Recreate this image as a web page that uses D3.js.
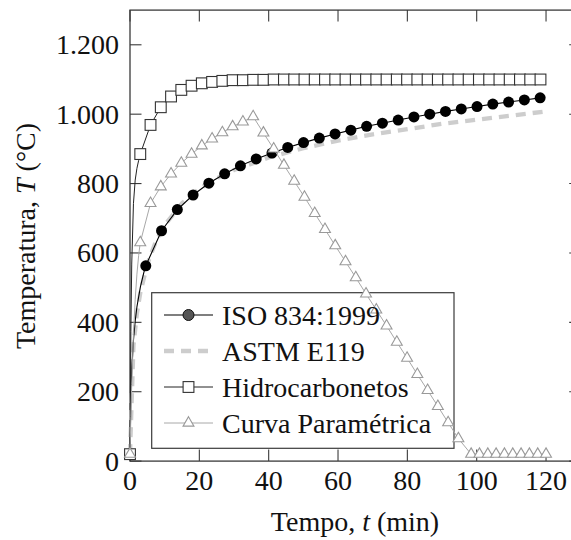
<!DOCTYPE html>
<html>
<head>
<meta charset="utf-8">
<script src="https://cdn.jsdelivr.net/npm/d3@7"></script>
<style>
  html, body { margin: 0; padding: 0; background: #fff; overflow: hidden; }
  svg text { font-family: "Liberation Serif", "Times New Roman", serif; fill: #111; }
</style>
</head>
<body>
<svg id="chart" width="571" height="540"></svg>
<script>
// ---- Data: fire curves, time in minutes, temperature in °C ----

// ISO 834:1999 (marked points)
const isoTime = [0, 4.55, 9.1, 13.65, 18.2, 22.75, 27.3, 31.85, 36.4, 40.95, 45.5, 50.05, 54.6, 59.15,
  63.7, 68.25, 72.8, 77.35, 81.9, 86.45, 91, 95.55, 100.1, 104.65, 109.2, 113.75, 118.3];
const isoTemp = [20, 563, 664, 725, 767, 801, 828, 851, 871, 888, 904, 918, 931, 943,
  954, 965, 974, 983, 992, 1000, 1008, 1015, 1022, 1029, 1035, 1041, 1047];
// extra unmarked points of the steep initial rise
const isoLeadTime = [0.25, 0.5, 1, 1.5, 2, 3, 4];
const isoLeadTemp = [185, 261, 349, 404, 445, 502, 544];

// ASTM E119 (line only)
const astmTime = [0, 1, 2, 3, 5, 7.5, 10, 15, 20, 25, 30, 40, 50, 60, 70, 80, 90, 100, 110, 120];
const astmTemp = [20, 333, 426, 487, 568, 634, 680, 743, 785, 815, 839, 875, 902, 924, 942, 957, 972, 984, 996, 1008];

// Hidrocarbonetos
const hydroTime = [0, 2.96, 5.92, 8.88, 11.84, 14.8, 17.76, 20.72, 23.68, 26.64, 29.6, 32.56, 35.52,
  38.48, 41.44, 44.4, 47.36, 50.32, 53.28, 56.24, 59.2, 62.16, 65.12, 68.08, 71.04, 74, 76.96,
  79.92, 82.88, 85.84, 88.8, 91.76, 94.72, 97.68, 100.64, 103.6, 106.56, 109.52, 112.48, 115.44, 118.4];
const hydroTemp = [20, 885, 969, 1020, 1051, 1070, 1082, 1089, 1093, 1096, 1098, 1098, 1099,
  1099, 1100, 1100, 1100, 1100, 1100, 1100, 1100, 1100, 1100, 1100, 1100, 1100, 1100,
  1100, 1100, 1100, 1100, 1100, 1100, 1100, 1100, 1100, 1100, 1100, 1100, 1100, 1100];
const hydroLeadTime = [0.25, 0.5, 1, 1.5, 2, 2.5];
const hydroLeadTemp = [373, 568, 743, 810, 844, 867];

// Curva Paramétrica (heating, linear cooling, then ambient)
const paramTime = [0, 2.96, 5.92, 8.88, 11.84, 14.8, 17.76, 20.72, 23.68, 26.64, 29.6, 32.56, 35.52,
  38.48, 41.44, 44.4, 47.36, 50.32, 53.28, 56.24, 59.2, 62.16, 65.12, 68.08, 71.04, 74, 76.96,
  79.92, 82.88, 85.84, 88.8, 91.76, 94.72,
  98.4, 100.8, 103.2, 105.6, 108, 110.4, 112.8, 115.2, 117.6, 120];
const paramTemp = [20, 630, 743, 791, 828, 859, 885, 909, 929, 947, 964, 978, 993,
  946, 900, 853, 807, 761, 714, 668, 621, 575, 529, 482, 436, 390, 343,
  297, 250, 204, 158, 111, 65,
  20, 20, 20, 20, 20, 20, 20, 20, 20, 20];
const paramLeadTime = [0.25, 0.5, 1, 1.5, 2, 2.5];
const paramLeadTemp = [129, 220, 364, 466, 539, 593];

// Axis ticks and labels
const xTicks = [0, 20, 40, 60, 80, 100, 120];
const yTicks = [0, 200, 400, 600, 800, 1000, 1200];
const seriesNames = ["ISO 834:1999", "ASTM E119", "Hidrocarbonetos", "Curva Paramétrica"];

// ---- Helpers ----
const zip = (ts, vs) => ts.map((t, i) => ({ t, v: vs[i] }));
const merged = (a, b) => a.concat(b).sort((p, q) => p.t - q.t);

const isoMarks = zip(isoTime, isoTemp);
const isoLine = merged(zip(isoLeadTime, isoLeadTemp), isoMarks);
const astmLine = zip(astmTime, astmTemp);
const hydroMarks = zip(hydroTime, hydroTemp);
const hydroLine = merged(zip(hydroLeadTime, hydroLeadTemp), hydroMarks);
const paramMarks = zip(paramTime, paramTemp);
const paramLine = merged(zip(paramLeadTime, paramLeadTemp), paramMarks);

// ---- Layout ----
const svg = d3.select("#chart");
const pLeft = 130, pRight = 580.7, pTop = 10.1, pBottom = 461.1;
const x = d3.scaleLinear().domain([0, 130]).range([pLeft, pRight]);
const y = d3.scaleLinear().domain([0, 1300]).range([pBottom, pTop]);
const tickLen = 11.5;
const fontSize = 28;
const ptFmt = d3.formatLocale({ decimal: ",", thousands: ".", grouping: [3], currency: ["", ""] }).format(",d");

const line = d3.line().x(d => x(d.t)).y(d => y(d.v));

// ---- Legend box (drawn beneath the curves) ----
const lg = { x0: 151.7, y0: 292.7, x1: 454, y1: 448.3 };
svg.append("rect")
  .attr("x", lg.x0).attr("y", lg.y0)
  .attr("width", lg.x1 - lg.x0).attr("height", lg.y1 - lg.y0)
  .attr("fill", "#fff").attr("stroke", "#3a3a3a").attr("stroke-width", 1.2);

// ---- Frame and ticks ----
const axisG = svg.append("g");
const axisStroke = "#3a3a3a";
axisG.append("g").selectAll("line").data(xTicks).join("line")
  .attr("x1", d => x(d)).attr("x2", d => x(d))
  .attr("y1", pBottom).attr("y2", pBottom - tickLen)
  .attr("stroke", axisStroke).attr("stroke-width", 1.1);
axisG.append("g").selectAll("line").data(xTicks).join("line")
  .attr("x1", d => x(d)).attr("x2", d => x(d))
  .attr("y1", pTop).attr("y2", pTop + tickLen)
  .attr("stroke", axisStroke).attr("stroke-width", 1.1);
axisG.append("g").selectAll("line").data(yTicks).join("line")
  .attr("x1", pLeft).attr("x2", pLeft + tickLen)
  .attr("y1", d => y(d)).attr("y2", d => y(d))
  .attr("stroke", axisStroke).attr("stroke-width", 1.1);
axisG.append("g").selectAll("line").data(yTicks).join("line")
  .attr("x1", pRight).attr("x2", pRight - tickLen)
  .attr("y1", d => y(d)).attr("y2", d => y(d))
  .attr("stroke", axisStroke).attr("stroke-width", 1.1);
axisG.append("rect")
  .attr("x", pLeft).attr("y", pTop)
  .attr("width", pRight - pLeft).attr("height", pBottom - pTop)
  .attr("fill", "none").attr("stroke", axisStroke).attr("stroke-width", 1.3);

// tick labels
svg.append("g").selectAll("text").data(xTicks).join("text")
  .attr("x", d => x(d)).attr("y", 490)
  .attr("text-anchor", "middle").attr("font-size", fontSize)
  .text(d => d);
svg.append("g").selectAll("text").data(yTicks).join("text")
  .attr("x", 119).attr("y", d => y(d) + 9.5)
  .attr("text-anchor", "end").attr("font-size", fontSize)
  .text(d => ptFmt(d));

// axis titles
const xt = svg.append("text").attr("x", 355).attr("y", 531)
  .attr("text-anchor", "middle").attr("font-size", fontSize);
xt.append("tspan").text("Tempo, ");
xt.append("tspan").attr("font-style", "italic").text("t");
xt.append("tspan").text(" (min)");

const yt = svg.append("text")
  .attr("transform", "translate(35,236) rotate(-90)")
  .attr("text-anchor", "middle").attr("font-size", fontSize);
yt.append("tspan").text("Temperatura, ");
yt.append("tspan").attr("font-style", "italic").text("T");
yt.append("tspan").text(" (°C)");

// ---- Marker shapes ----
const triPath = r => `M0,${-r}L${r * 0.866},${r * 0.5}L${-r * 0.866},${r * 0.5}Z`;
const sq = 10.8;

const styles = {
  astm: { stroke: "#cdcdcd", width: 4.3, dash: "10,7" },
  iso: { stroke: "#000", width: 1.1 },
  hydro: { stroke: "#222", width: 1.0 },
  param: { stroke: "#a8a8a8", width: 1.0 }
};

const plot = svg.append("g");

// ASTM E119
plot.append("path").datum(astmLine).attr("d", line)
  .attr("fill", "none").attr("stroke", styles.astm.stroke)
  .attr("stroke-width", styles.astm.width).attr("stroke-dasharray", styles.astm.dash);

// ISO 834
plot.append("path").datum(isoLine).attr("d", line)
  .attr("fill", "none").attr("stroke", styles.iso.stroke).attr("stroke-width", styles.iso.width);
plot.append("g").selectAll("circle").data(isoMarks).join("circle")
  .attr("cx", d => x(d.t)).attr("cy", d => y(d.v)).attr("r", 5.5)
  .attr("fill", "#000");

// Hidrocarbonetos
plot.append("path").datum(hydroLine).attr("d", line)
  .attr("fill", "none").attr("stroke", styles.hydro.stroke).attr("stroke-width", styles.hydro.width);
plot.append("g").selectAll("rect").data(hydroMarks).join("rect")
  .attr("x", d => x(d.t) - sq / 2).attr("y", d => y(d.v) - sq / 2)
  .attr("width", sq).attr("height", sq)
  .attr("fill", "#fff").attr("stroke", "#333").attr("stroke-width", 1.1);

// Curva Paramétrica
plot.append("path").datum(paramLine).attr("d", line)
  .attr("fill", "none").attr("stroke", styles.param.stroke).attr("stroke-width", styles.param.width);
plot.append("g").selectAll("path").data(paramMarks).join("path")
  .attr("transform", d => `translate(${x(d.t)},${y(d.v)})`)
  .attr("d", triPath(6.3))
  .attr("fill", "#fff").attr("stroke", "#999").attr("stroke-width", 1.1);

// ---- Legend entries ----
const lgRows = [325, 361, 397, 433];
const sx0 = 164, sx1 = 213, sxm = (sx0 + sx1) / 2;
const leg = svg.append("g");
seriesNames.forEach((name, i) => {
  const cy = lgRows[i] - 10;
  const key = ["iso", "astm", "hydro", "param"][i];
  const st = styles[key];
  const ln = leg.append("line").attr("x1", sx0).attr("x2", sx1).attr("y1", cy).attr("y2", cy)
    .attr("stroke", st.stroke).attr("stroke-width", st.width);
  if (st.dash) ln.attr("stroke-dasharray", st.dash);
  if (key === "iso") {
    leg.append("circle").attr("cx", sxm).attr("cy", cy).attr("r", 5.5)
      .attr("fill", "#555").attr("stroke", "#111").attr("stroke-width", 1);
  } else if (key === "hydro") {
    leg.append("rect").attr("x", sxm - sq / 2).attr("y", cy - sq / 2)
      .attr("width", sq).attr("height", sq)
      .attr("fill", "#fff").attr("stroke", "#333").attr("stroke-width", 1.1);
  } else if (key === "param") {
    leg.append("path").attr("transform", `translate(${sxm},${cy})`).attr("d", triPath(6.3))
      .attr("fill", "#fff").attr("stroke", "#999").attr("stroke-width", 1.1);
  }
  leg.append("text").attr("x", 222).attr("y", lgRows[i])
    .attr("font-size", fontSize).text(name);
});
</script>
</body>
</html>
